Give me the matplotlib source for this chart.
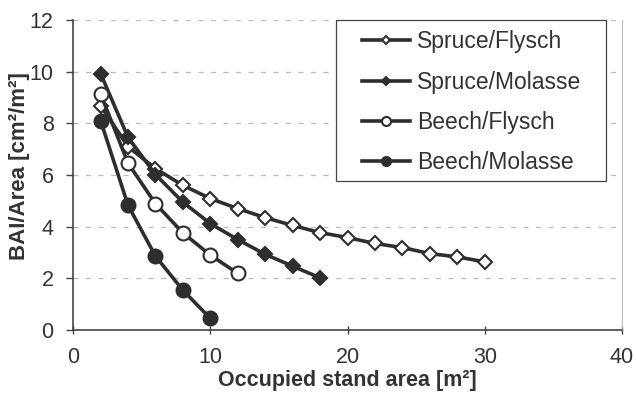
import matplotlib.pyplot as plt
from matplotlib.patches import Rectangle
import numpy as np

plt.rcParams['font.family'] = ['Liberation Sans', 'DejaVu Sans']

# data
spruce_flysch_x = [2, 4, 6, 8, 10, 12, 14, 16, 18, 20, 22, 24, 26, 28, 30]
spruce_flysch_y = [8.69, 7.10, 6.25, 5.60, 5.09, 4.70, 4.35, 4.05, 3.77, 3.58, 3.35, 3.19, 2.96, 2.83, 2.64]

spruce_molasse_x = [2, 4, 6, 8, 10, 12, 14, 16, 18]
spruce_molasse_y = [9.93, 7.46, 6.02, 4.95, 4.12, 3.50, 2.93, 2.47, 2.02]

beech_flysch_x = [2, 4, 6, 8, 10, 12]
beech_flysch_y = [9.14, 6.46, 4.89, 3.76, 2.90, 2.19]

beech_molasse_x = [2, 4, 6, 8, 10]
beech_molasse_y = [8.11, 4.83, 2.86, 1.54, 0.45]

labels = ['Spruce/Flysch', 'Spruce/Molasse', 'Beech/Flysch', 'Beech/Molasse']

col = '#2e2e2e'

fig = plt.figure(figsize=(6.36, 4.01), dpi=100)
ax = fig.add_axes([0.115, 0.177, 0.863, 0.773])

ax.plot(spruce_flysch_x, spruce_flysch_y, color=col, lw=2.6, marker='D', ms=7,
        mfc='white', mec=col, mew=1.5, label=labels[0], zorder=3)
ax.plot(spruce_molasse_x, spruce_molasse_y, color=col, lw=2.6, marker='D', ms=7,
        mfc=col, mec=col, mew=1.5, label=labels[1], zorder=3)
ax.plot(beech_flysch_x, beech_flysch_y, color=col, lw=2.6, marker='o', ms=10,
        mfc='white', mec=col, mew=1.5, label=labels[2], zorder=4)
ax.plot(beech_molasse_x, beech_molasse_y, color=col, lw=2.6, marker='o', ms=10,
        mfc=col, mec=col, mew=1.5, label=labels[3], zorder=4)

ax.set_xlim(0, 40)
ax.set_ylim(0, 12)
ax.set_xticks(np.arange(0, 41, 10))
ax.set_yticks(np.arange(0, 13, 2))

for y in range(2, 13, 2):
    ax.axhline(y, color='#bbbbbb', lw=0.9, ls=(0, (4, 6)), zorder=1)

ax.spines['left'].set_color('#444444')
ax.spines['bottom'].set_color('#444444')
ax.spines['left'].set_linewidth(1.2)
ax.spines['bottom'].set_linewidth(1.2)
ax.spines['right'].set_color('#bbbbbb')
ax.spines['top'].set_visible(False)

ax.tick_params(axis='y', direction='out', length=5, width=1, color='#444444',
               labelsize=15.5, labelcolor='#333333', pad=9)
ax.tick_params(axis='x', direction='inout', length=6, width=1, color='#444444',
               labelsize=15.5, labelcolor='#333333', pad=9)

ax.set_xlabel('Occupied stand area [m²]', fontsize=15.5, fontweight='bold',
              color='#333333', labelpad=2)
ax.set_ylabel('BAI/Area [cm²/m²]', fontsize=16, fontweight='bold',
              color='#333333')
ax.yaxis.set_label_coords(-0.078, 0.53)

# legend box drawn separately so the entries can sit indented inside it
box = Rectangle((0.479, 0.481), 0.492, 0.519, transform=ax.transAxes,
                facecolor='white', edgecolor='#444444', lw=0.9,
                clip_on=False, zorder=5)
ax.add_patch(box)

leg = ax.legend(loc='center left', bbox_to_anchor=(0.526, 0.735),
                borderaxespad=0, borderpad=0, fontsize=16.5, markerscale=0.65,
                handlelength=2.1, handletextpad=0.3, labelspacing=0.75,
                frameon=False)
leg.set_zorder(6)
for t in leg.get_texts():
    t.set_color('#333333')

fig.savefig('out.png', dpi=100)
